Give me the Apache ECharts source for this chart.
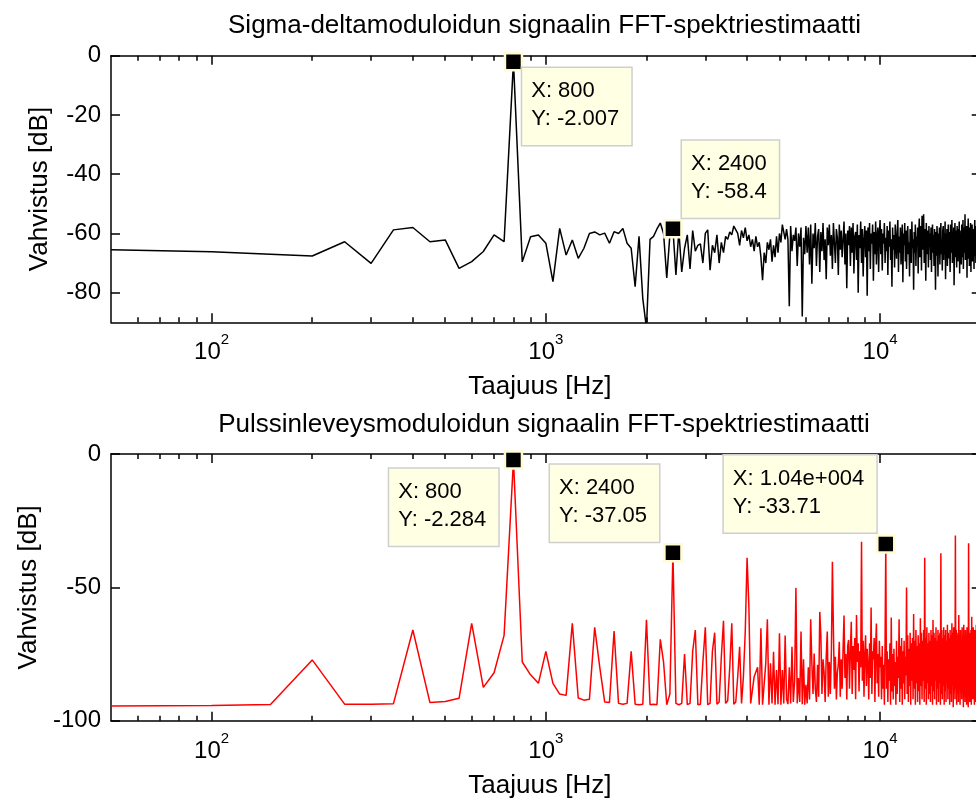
<!DOCTYPE html>
<html>
<head>
<meta charset="utf-8">
<title>FFT-spektriestimaatit</title>
<script src="https://cdn.jsdelivr.net/npm/echarts@6/dist/echarts.min.js"></script>
<style>
  html, body { margin: 0; padding: 0; overflow: hidden; background: #fff; }
  #chart { width: 1000px; height: 801px; }
</style>
</head>
<body>
<div id="chart"></div>
<script>
// FFT bin spacing of both spectra (Hz); bins run 50 ... 20000 Hz
const BIN_HZ = 50;

// Sigma-delta modulated signal, magnitude per bin (dB), 20 bins per row
const sdDb = [
  -65.5, -66.2, -67.0, -67.6, -62.8, -70.1, -58.8, -58.0, -62.8, -62.2, -71.8, -69.5, -66.1, -60.5, -62.8, -2.007, -69.6, -61.1, -60.5, -63.3, // 50-1000
  -76.3, -58.3, -67.3, -62.2, -68.4, -65.0, -60.0, -59.5, -60.5, -59.9, -63.3, -59.4, -60.0, -58.3, -63.3, -65.0, -78.0, -61.0, -82.0, -92.0, // 1050-2000
  -62.0, -61.0, -58.5, -56.5, -60.0, -75.0, -60.5, -58.4, -74.0, -59.0, -73.0, -65.0, -60.5, -72.0, -59.0, -66.0, -64.0, -63.5, -70.0, -60.0, // 2050-3000
  -58.8, -72.4, -64.0, -66.5, -60.5, -70.0, -63.0, -66.5, -61.0, -62.0, -59.5, -60.5, -57.5, -58.0, -60.0, -64.0, -59.0, -61.5, -58.0, -62.5, // 3050-4000
  -60.5, -64.5, -62.0, -66.0, -61.0, -64.5, -63.0, -68.0, -75.8, -66.5, -70.0, -63.0, -65.5, -62.0, -69.5, -64.0, -68.0, -61.0, -66.5, -60.0, // 4050-5000
  -63.0, -57.0, -56.5, -62.0, -58.5, -62.0, -84.6, -57.5, -66.0, -60.5, -62.5, -58.0, -71.0, -60.0, -64.5, -58.0, -88.0, -61.5, -67.0, -57.5, // 5050-6000
  -66.5, -58.0, -70.5, -57.0, -77.0, -60.0, -65.0, -56.5, -71.0, -61.0, -58.5, -73.0, -59.5, -66.0, -56.5, -69.0, -62.0, -75.5, -58.0, -64.0, // 6050-7000
  -57.0, -67.5, -60.5, -72.0, -56.5, -63.0, -70.0, -58.5, -61.5, -74.0, -57.0, -65.5, -59.0, -68.0, -62.0, -56.0, -70.5, -60.0, -78.5, -59.0, // 7050-8000
  -64.0, -57.5, -71.0, -58.0, -66.5, -56.5, -73.5, -61.0, -59.5, -69.0, -57.0, -80.0, -60.5, -65.0, -56.0, -70.0, -58.5, -74.5, -62.0, -57.5, // 8050-9000
  -68.0, -59.0, -81.0, -58.0, -66.0, -56.5, -72.0, -60.0, -63.5, -57.0, -76.0, -59.5, -67.0, -56.0, -70.5, -61.0, -58.0, -73.0, -60.0, -55.5, // 9050-10000
  -67.0, -58.5, -72.5, -60.0, -63.5, -56.5, -70.0, -61.5, -66.0, -57.5, -74.0, -59.0, -64.5, -56.0, -69.0, -62.0, -78.0, -58.0, -65.5, -60.5, // 10050-11000
  -71.5, -57.0, -63.0, -68.5, -59.5, -55.5, -73.0, -61.0, -66.5, -58.0, -70.5, -62.5, -57.0, -76.5, -60.0, -64.0, -56.5, -69.5, -59.0, -72.0, // 11050-12000
  -61.5, -57.5, -67.0, -63.0, -74.5, -58.5, -60.0, -70.0, -56.0, -65.0, -62.0, -79.0, -59.5, -66.5, -57.0, -71.0, -61.0, -63.5, -58.0, -73.5, // 12050-13000
  -60.0, -55.0, -68.0, -62.5, -57.5, -72.5, -54.0, -65.5, -60.5, -53.5, -70.0, -58.5, -63.0, -76.0, -56.5, -67.0, -61.5, -59.0, -71.5, -57.5, // 13050-14000
  -64.5, -60.0, -69.0, -58.0, -73.0, -62.0, -57.0, -66.5, -60.5, -71.0, -58.5, -63.5, -79.0, -59.5, -67.5, -57.5, -62.5, -74.5, -60.0, -65.0, // 14050-15000
  -58.0, -70.5, -61.5, -56.5, -67.0, -63.0, -72.5, -59.0, -57.5, -69.0, -61.0, -64.5, -56.0, -75.5, -60.0, -66.0, -58.5, -71.0, -62.5, -57.0, // 15050-16000
  -68.5, -59.5, -63.5, -73.0, -57.0, -61.0, -66.5, -55.5, -70.0, -60.0, -64.0, -58.0, -77.5, -61.5, -56.5, -68.0, -59.0, -65.0, -71.5, -57.5, // 16050-17000
  -62.0, -69.5, -58.5, -64.0, -56.0, -73.5, -60.5, -66.0, -59.0, -70.5, -57.0, -63.0, -68.0, -55.5, -72.0, -61.0, -58.0, -66.5, -53.5, -69.0, // 17050-18000
  -60.5, -64.5, -57.5, -75.0, -59.0, -62.5, -55.0, -68.5, -61.0, -71.0, -58.0, -65.5, -56.5, -73.0, -60.0, -63.0, -57.0, -69.5, -61.5, -66.0, // 18050-19000
  -58.5, -72.0, -60.0, -55.5, -67.5, -62.5, -70.0, -57.5, -64.0, -59.5, -74.0, -56.0, -66.0, -61.0, -68.5, -58.0, -63.5, -71.0, -57.0, -65.0  // 19050-20000
];

// Pulse-width modulated signal, magnitude per bin (dB), 20 bins per row
const pwDb = [
  -94.5, -94.3, -93.9, -77.2, -93.8, -93.8, -93.6, -66.0, -93.2, -92.8, -91.6, -63.5, -87.5, -82.0, -68.0, -2.284, -78.0, -82.8, -86.0, -74.0, // 50-1000
  -86.0, -90.0, -90.5, -63.5, -91.5, -92.3, -92.0, -65.0, -80.0, -93.0, -93.2, -66.4, -93.5, -93.8, -93.5, -74.0, -93.8, -94.0, -93.8, -62.2, // 1050-2000
  -94.0, -93.8, -94.0, -69.5, -78.0, -94.0, -90.0, -37.05, -93.5, -94.0, -93.5, -75.0, -94.0, -93.5, -74.0, -66.0, -94.0, -93.8, -78.0, -65.0, // 2050-3000
  -94.0, -93.5, -74.0, -67.0, -93.8, -93.0, -76.0, -62.5, -93.5, -92.5, -80.0, -63.5, -93.8, -93.0, -83.5, -72.3, -93.5, -83.5, -66.6, -38.9, // 3050-4000
  -57.0, -93.5, -93.8, -83.5, -83.5, -80.0, -94.0, -65.3, -94.0, -93.5, -78.5, -62.0, -94.0, -78.5, -93.5, -74.2, -94.0, -81.0, -93.8, -67.2, // 4050-5000
  -94.0, -81.0, -93.5, -68.1, -92.0, -93.8, -80.0, -93.5, -72.3, -93.0, -85.0, -50.2, -93.5, -84.0, -93.0, -66.6, -93.8, -77.0, -94.0, -86.5, // 5050-6000
  -93.5, -80.0, -92.0, -62.0, -78.5, -90.0, -74.8, -88.0, -93.0, -79.0, -91.0, -59.2, -68.0, -90.0, -77.0, -82.0, -93.0, -76.0, -66.6, -91.0, // 6050-7000
  -78.0, -90.0, -74.0, -40.4, -66.0, -88.0, -76.0, -92.0, -82.0, -79.0, -70.4, -91.0, -77.0, -88.0, -73.0, -60.6, -84.0, -75.0, -92.0, -72.0, // 7050-8000
  -69.7, -88.0, -74.0, -62.9, -90.0, -72.0, -81.0, -69.0, -92.0, -60.4, -78.0, -71.0, -89.0, -74.0, -80.0, -32.9, -85.0, -70.0, -91.0, -75.0, // 8050-9000
  -68.0, -87.0, -73.0, -79.0, -92.0, -71.0, -84.0, -57.6, -90.0, -74.0, -77.0, -69.0, -93.0, -72.0, -63.6, -86.0, -75.0, -91.0, -70.0, -80.0, // 9050-10000
  -76, -92, -72, -88, -79, -94, -70, -33.71, -88, -74, -93, -77, -85, -71, -94, -61.3, -89, -75, -92, -73,       // 10050-11000
  -87, -78, -94, -70, -90, -76, -84, -62, -93, -72, -88, -69, -94, -74, -86, -70, -92, -76, -83, -50.1,          // 11050-12000
  -90, -68, -93, -73, -87, -67, -94, -71, -85, -69, -92, -60, -88, -70, -94, -66, -86, -72, -93, -68,            // 12050-13000
  -89, -71, -94, -61.6, -87, -67, -92, -70, -85, -66, -93, -38.9, -88, -69, -94, -65, -86, -71, -92, -67,        // 13050-14000
  -90, -70, -93, -66, -87, -68, -94, -62.2, -89, -67, -92, -69, -85, -65, -94, -70, -88, -66, -93, -68,          // 14050-15000
  -86, -67, -94, -37.2, -90, -66, -92, -69, -87, -65, -94, -68, -89, -66, -93, -70, -86, -64, -92, -67,          // 15050-16000
  -88, -69, -94, -66, -90, -68, -93, -63.5, -87, -67, -95, -65, -89, -69, -92, -30.6, -88, -66, -94, -68,        // 16050-17000
  -90, -67, -93, -60.4, -87, -68, -94, -66, -89, -70, -92, -65, -86, -68, -95, -64, -90, -69, -93, -66,          // 17050-18000
  -88, -70, -94, -65, -91, -68, -95, -33.5, -89, -67, -93, -69, -87, -66, -94, -61, -90, -68, -92, -65,          // 18050-19000
  -89, -70, -94, -66, -88, -68, -93, -64, -90, -69, -95, -66, -87, -67, -94, -65, -91, -69, -93, -40             // 19050-20000
];

// Bin centre frequencies
const freqHz = sdDb.map((_, i) => (i + 1) * BIN_HZ);

// Data cursors
const sdTipX = [800, 2400];
const sdTipY = [-2.007, -58.4];
const pwTipX = [800, 2400, 10400];
const pwTipY = [-2.284, -37.05, -33.71];

// Axis ticks
const xDecadeTicks = [100, 1000, 10000];
const xMinorTicks = [60, 70, 80, 90, 200, 300, 400, 500, 600, 700, 800, 900,
                     2000, 3000, 4000, 5000, 6000, 7000, 8000, 9000];
const yTicksTop = [-80, -60, -40, -20, 0];
const yTicksBottom = [-100, -50, 0];

// ---- styling / layout ----
const FONT = "'Liberation Sans', Arial, Helvetica, sans-serif";
const INK = '#000';
const AXIS_LINE = { color: INK, width: 1.5 };
const PLOT_LEFT = 111;
const PLOT_RIGHT = 1000 - 980.7;          // right spine sits just past the window edge
const GRIDS = [
  { top: 55.7, height: 266.6 },
  { top: 454, height: 266.7 }
];
// datatip box top-left, relative to the marker centre
const sdTipBox = [[10, 7.7], [10.3, -86.7]];
const pwTipBox = [[-123, 10], [-121.7, -86.8], [-160.7, -87.2]];
const MARK = 17;

// MATLAB-style number text for the datatips (4 significant digits)
function matlabNum(v) {
  let s = Number(v).toPrecision(4);
  if (s.indexOf('e') >= 0) {
    let parts = s.split('e');
    let m = parts[0];
    if (m.indexOf('.') >= 0) m = m.replace(/0+$/, '').replace(/\.$/, '');
    const sign = parts[1][0] === '-' ? '-' : '+';
    const digits = parts[1].replace(/^[+-]/, '').padStart(3, '0');
    return m + 'e' + sign + digits;
  }
  if (s.indexOf('.') >= 0) s = s.replace(/0+$/, '').replace(/\.$/, '');
  return s;
}

function xAxesFor(gridIndex) {
  const base = {
    gridIndex, type: 'log', logBase: 10, min: 50, max: 20000,
    splitLine: { show: false }, splitArea: { show: false }
  };
  return [
    Object.assign({}, base, {
      position: 'bottom',
      axisLine: { show: true, onZero: false, lineStyle: AXIS_LINE },
      axisTick: { show: true, inside: true, length: 9, customValues: xDecadeTicks, lineStyle: AXIS_LINE },
      axisLabel: {
        show: true, customValues: xDecadeTicks, margin: 10.5,
        fontFamily: FONT, fontSize: 24, color: INK,
        formatter: v => '{b|10}{s|' + Math.round(Math.log10(v)) + '}',
        rich: {
          b: { fontFamily: FONT, fontSize: 24, lineHeight: 40, color: INK },
          s: { fontFamily: FONT, fontSize: 15, lineHeight: 15, verticalAlign: 'top', color: INK }
        }
      },
      name: 'Taajuus [Hz]', nameLocation: 'middle', nameGap: 52,
      nameTextStyle: { fontFamily: FONT, fontSize: 26, color: INK, padding: [0, 12, 0, 0] }
    }),
    Object.assign({}, base, {
      position: 'bottom',
      axisLine: { show: false, onZero: false },
      axisTick: { show: true, inside: true, length: 5, customValues: xMinorTicks, lineStyle: AXIS_LINE },
      axisLabel: { show: false }
    }),
    Object.assign({}, base, {
      position: 'top',
      axisLine: { show: true, onZero: false, lineStyle: AXIS_LINE },
      axisTick: { show: true, inside: true, length: 9, customValues: xDecadeTicks, lineStyle: AXIS_LINE },
      axisLabel: { show: false }
    }),
    Object.assign({}, base, {
      position: 'top',
      axisLine: { show: false, onZero: false },
      axisTick: { show: true, inside: true, length: 5, customValues: xMinorTicks, lineStyle: AXIS_LINE },
      axisLabel: { show: false }
    })
  ];
}

function yAxesFor(gridIndex, min, max, ticks) {
  return [
    {
      gridIndex, type: 'value', min, max, position: 'left',
      axisLine: { show: true, onZero: false, lineStyle: AXIS_LINE },
      axisTick: { show: true, inside: true, length: 9, customValues: ticks, lineStyle: AXIS_LINE },
      axisLabel: { show: true, customValues: ticks, margin: 10, fontFamily: FONT, fontSize: 24, color: INK },
      splitLine: { show: false },
      name: 'Vahvistus [dB]', nameLocation: 'middle', nameRotate: 90, nameGap: 58,
      nameTextStyle: { fontFamily: FONT, fontSize: 26, color: INK }
    },
    {
      gridIndex, type: 'value', min, max, position: 'right',
      axisLine: { show: true, onZero: false, lineStyle: AXIS_LINE },
      axisTick: { show: true, inside: true, length: 9, customValues: ticks, lineStyle: AXIS_LINE },
      axisLabel: { show: false },
      splitLine: { show: false }
    }
  ];
}

function spectrum(values) {
  return freqHz.map((f, i) => [f, values[i]]);
}

function tipPoints(xs, ys, boxes) {
  return xs.map((x, i) => ({
    value: [x, ys[i]],
    label: { position: [boxes[i][0] + MARK / 2, boxes[i][1] + MARK / 2] }
  }));
}

function tipSeries(xAxisIndex, yAxisIndex, xs, ys, boxes) {
  return {
    type: 'scatter', xAxisIndex, yAxisIndex, z: 10,
    data: tipPoints(xs, ys, boxes),
    symbol: 'rect', symbolSize: MARK,
    itemStyle: { color: '#000', borderColor: '#fffbd2', borderWidth: 2.5, opacity: 1 },
    label: {
      show: true,
      formatter: p => 'X: ' + matlabNum(p.value[0]) + '\nY: ' + matlabNum(p.value[1]),
      fontFamily: FONT, fontSize: 22, lineHeight: 28, color: INK,
      backgroundColor: '#ffffe3', borderColor: '#cfcfcf', borderWidth: 1.5,
      padding: [9, 12, 12, 9], align: 'left', verticalAlign: 'top'
    },
    emphasis: { disabled: true },
    silent: true, animation: false
  };
}

const chart = echarts.init(document.getElementById('chart'), null, { renderer: 'canvas' });

chart.setOption({
  backgroundColor: '#fff',
  animation: false,
  title: [
    {
      text: 'Sigma-deltamoduloidun signaalin FFT-spektriestimaatti',
      left: 544.5, top: 13.3, textAlign: 'center', padding: 0,
      textStyle: { fontFamily: FONT, fontSize: 26, fontWeight: 'normal', color: INK }
    },
    {
      text: 'Pulssinleveysmoduloidun signaalin FFT-spektriestimaatti',
      left: 544, top: 411.6, textAlign: 'center', padding: 0,
      textStyle: { fontFamily: FONT, fontSize: 26, fontWeight: 'normal', color: INK }
    }
  ],
  grid: GRIDS.map(g => ({ left: PLOT_LEFT, right: PLOT_RIGHT, top: g.top, height: g.height, containLabel: false })),
  xAxis: [].concat(xAxesFor(0), xAxesFor(1)),
  yAxis: [].concat(yAxesFor(0, -90, 0, yTicksTop), yAxesFor(1, -100, 0, yTicksBottom)),
  series: [
    {
      type: 'line', xAxisIndex: 0, yAxisIndex: 0, data: spectrum(sdDb),
      showSymbol: false, symbol: 'none', clip: true, silent: true, z: 3,
      lineStyle: { color: '#000', width: 1.5 }
    },
    tipSeries(0, 0, sdTipX, sdTipY, sdTipBox),
    {
      type: 'line', xAxisIndex: 4, yAxisIndex: 2, data: spectrum(pwDb),
      showSymbol: false, symbol: 'none', clip: true, silent: true, z: 3,
      lineStyle: { color: '#ff0000', width: 1.5 }
    },
    tipSeries(4, 2, pwTipX, pwTipY, pwTipBox)
  ]
});
</script>
</body>
</html>
